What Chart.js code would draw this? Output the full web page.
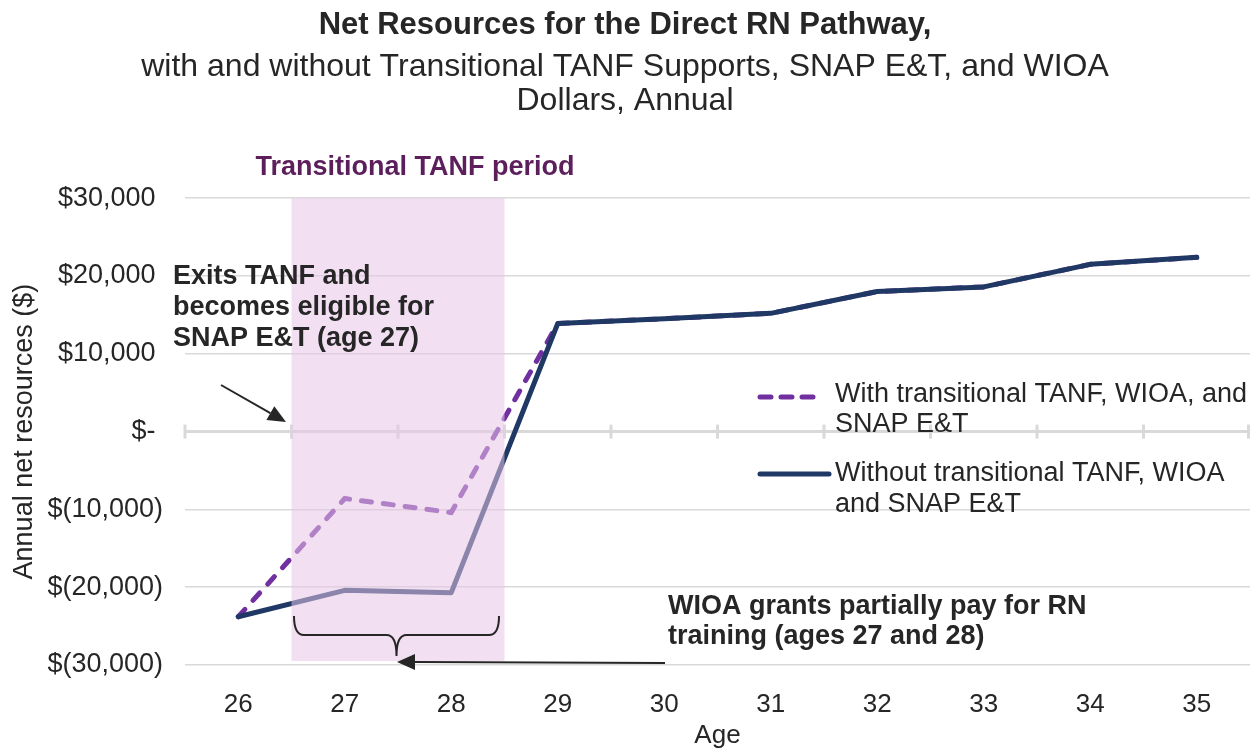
<!DOCTYPE html>
<html>
<head>
<meta charset="utf-8">
<script src="https://cdn.jsdelivr.net/npm/chart.js@4/dist/chart.umd.min.js"></script>
<style>
  body { margin: 0; background: #fff; }
  #wrap { width: 1250px; height: 749px; }
</style>
</head>
<body>
<div id="wrap"><canvas id="chart"></canvas></div>
<script>
const ages = ['26', '27', '28', '29', '30', '31', '32', '33', '34', '35'];
const withSupports = [-23800, -8600, -10400, 13900, 14500, 15200, 18000, 18600, 21500, 22400];
const withoutSupports = [-23800, -20400, -20700, 13900, 14500, 15200, 18000, 18600, 21500, 22400];
const seriesNames = ['With transitional TANF, WIOA, and|SNAP E&T', 'Without transitional TANF, WIOA|and SNAP E&T'];
const tanfStart = 1;   // index of age 27
const tanfEnd = 2;     // index of age 28

const FONT = 'Liberation Sans, Arial, sans-serif';
const TEXT = '#262626';
const PURPLE = '#7030A0';
const NAVY = '#1F3864';

// accounting style: $30,000 / $- / $(30,000), positives keep a space where ")" would be
function money(v) {
    if (v === 0) return '$- ';
    const s = Math.abs(v).toLocaleString('en-US');
    return v < 0 ? '$(' + s + ')' : '$' + s + ' ';
}

// little tick marks sitting on the zero line
const zeroTicks = {
    id: 'zeroTicks',
    beforeDatasetsDraw(chart) {
        const ctx = chart.ctx;
        const area = chart.chartArea;
        const y0 = chart.scales.y.getPixelForValue(0);
        const step = (area.right - area.left) / ages.length;
        ctx.save();
        ctx.strokeStyle = '#D9D9D9';
        ctx.lineWidth = 3;
        for (let i = 0; i <= ages.length; i++) {
            const x = Math.min(area.left + i * step, area.right - 1.5);
            ctx.beginPath();
            ctx.moveTo(x, y0 - 7);
            ctx.lineTo(x, y0 + 7);
            ctx.stroke();
        }
        ctx.restore();
    }
};

// translucent band over the transitional TANF years
const tanfBand = {
    id: 'tanfBand',
    afterDatasetsDraw(chart) {
        const ctx = chart.ctx;
        const xs = chart.scales.x;
        const ys = chart.scales.y;
        const left = (xs.getPixelForValue(tanfStart - 1) + xs.getPixelForValue(tanfStart)) / 2;
        const right = (xs.getPixelForValue(tanfEnd) + xs.getPixelForValue(tanfEnd + 1)) / 2;
        const top = ys.getPixelForValue(30000);
        const bottom = ys.getPixelForValue(-29500);
        ctx.save();
        ctx.fillStyle = 'rgba(231, 197, 231, 0.54)';
        ctx.fillRect(left, top, right - left, bottom - top);
        ctx.restore();
    }
};

function arrow(ctx, x1, y1, x2, y2) {
    const a = Math.atan2(y2 - y1, x2 - x1);
    const len = 18, half = 8;
    const bx = x2 - len * Math.cos(a), by = y2 - len * Math.sin(a);
    ctx.beginPath();
    ctx.moveTo(x1, y1);
    ctx.lineTo(bx, by);
    ctx.stroke();
    ctx.beginPath();
    ctx.moveTo(x2, y2);
    ctx.lineTo(bx + half * Math.sin(a), by - half * Math.cos(a));
    ctx.lineTo(bx - half * Math.sin(a), by + half * Math.cos(a));
    ctx.closePath();
    ctx.fill();
}

const notes = {
    id: 'notes',
    afterDraw(chart) {
        const ctx = chart.ctx;
        const xs = chart.scales.x;
        ctx.save();
        ctx.textBaseline = 'middle';
        ctx.textAlign = 'left';

        // band label
        const bandMid = (xs.getPixelForValue(tanfStart) + xs.getPixelForValue(tanfEnd)) / 2;
        ctx.fillStyle = '#5C1F5C';
        ctx.font = 'bold 27px ' + FONT;
        ctx.textAlign = 'center';
        ctx.fillText('Transitional TANF period', bandMid + 17, 168);

        ctx.textAlign = 'left';
        ctx.fillStyle = TEXT;
        ['Exits TANF and', 'becomes eligible for', 'SNAP E&T (age 27)'].forEach((t, i) => {
            ctx.fillText(t, 173, 277 + i * 31);
        });
        ['WIOA grants partially pay for RN', 'training (ages 27 and 28)'].forEach((t, i) => {
            ctx.fillText(t, 668, 607 + i * 30);
        });

        ctx.strokeStyle = TEXT;
        ctx.fillStyle = TEXT;
        ctx.lineWidth = 2;
        arrow(ctx, 221, 385, 286, 422);
        arrow(ctx, 665, 663, 397, 662);

        // curly brace under ages 27-28
        const b1 = 294, b2 = 499, bm = (b1 + b2) / 2;
        ctx.beginPath();
        ctx.moveTo(b1, 616);
        ctx.quadraticCurveTo(b1, 635, b1 + 10, 635);
        ctx.lineTo(bm - 10, 635);
        ctx.quadraticCurveTo(bm, 635, bm, 656);
        ctx.quadraticCurveTo(bm, 635, bm + 10, 635);
        ctx.lineTo(b2 - 10, 635);
        ctx.quadraticCurveTo(b2, 635, b2, 616);
        ctx.stroke();

        // legend
        ctx.font = '27px ' + FONT;
        ctx.lineCap = 'round';
        ctx.lineWidth = 5;
        ctx.strokeStyle = PURPLE;
        ctx.setLineDash([11, 10]);
        ctx.beginPath();
        ctx.moveTo(760, 397);
        ctx.lineTo(816, 397);
        ctx.stroke();
        ctx.setLineDash([]);
        ctx.strokeStyle = NAVY;
        ctx.beginPath();
        ctx.moveTo(760, 474);
        ctx.lineTo(829, 474);
        ctx.stroke();
        ctx.fillStyle = TEXT;
        seriesNames[0].split('|').forEach((t, i) => ctx.fillText(t, 835, 395 + i * 30));
        seriesNames[1].split('|').forEach((t, i) => ctx.fillText(t, 835, 474 + i * 31));
        ctx.restore();
    }
};

new Chart(document.getElementById('chart'), {
    type: 'line',
    data: {
        labels: ages,
        datasets: [
            {
                label: seriesNames[0].replace('|', ' '),
                data: withSupports,
                borderColor: PURPLE,
                borderWidth: 5,
                borderDash: [10, 12],
                borderCapStyle: 'round',
                pointRadius: 0,
                tension: 0,
                order: 1
            },
            {
                label: seriesNames[1].replace('|', ' '),
                data: withoutSupports,
                borderColor: NAVY,
                borderWidth: 5,
                borderCapStyle: 'round',
                borderJoinStyle: 'round',
                pointRadius: 0,
                tension: 0,
                order: 0
            }
        ]
    },
    options: {
        responsive: true,
        maintainAspectRatio: false,
        animation: false,
        layout: { padding: 0 },
        plugins: {
            legend: { display: false },
            tooltip: { enabled: false },
            title: {
                display: true,
                text: 'Net Resources for the Direct RN Pathway,',
                color: TEXT,
                font: { family: FONT, size: 31, weight: 'bold', lineHeight: 1.2 },
                padding: { top: 7, bottom: 6 }
            },
            subtitle: {
                display: true,
                text: ['with and without Transitional TANF Supports, SNAP E&T, and WIOA', 'Dollars, Annual'],
                color: TEXT,
                font: { family: FONT, size: 32, lineHeight: 1.0625 },
                padding: { top: 0, bottom: 80 }
            }
        },
        scales: {
            x: {
                offset: true,
                grid: { display: false },
                border: { display: false },
                ticks: { color: TEXT, font: { family: FONT, size: 26 }, padding: 16 },
                title: {
                    display: true,
                    text: 'Age',
                    color: TEXT,
                    font: { family: FONT, size: 26, lineHeight: 1 },
                    padding: 0
                },
                afterFit(scale) { scale.height = 84; }
            },
            y: {
                min: -30000,
                max: 30000,
                border: { display: false },
                grid: {
                    color: '#D9D9D9',
                    lineWidth: (c) => (c.tick && c.tick.value === 0 ? 3 : 1.5),
                    drawTicks: false
                },
                ticks: {
                    stepSize: 10000,
                    color: TEXT,
                    font: { family: FONT, size: 27 },
                    padding: 22,
                    callback: (v) => money(v)
                },
                title: {
                    display: true,
                    text: 'Annual net resources ($)',
                    color: TEXT,
                    font: { family: FONT, size: 27, lineHeight: 1.2 },
                    padding: { top: 8, bottom: 0 }
                },
                afterFit(scale) { scale.width = 185; }
            }
        }
    },
    plugins: [zeroTicks, tanfBand, notes]
});
</script>
</body>
</html>
